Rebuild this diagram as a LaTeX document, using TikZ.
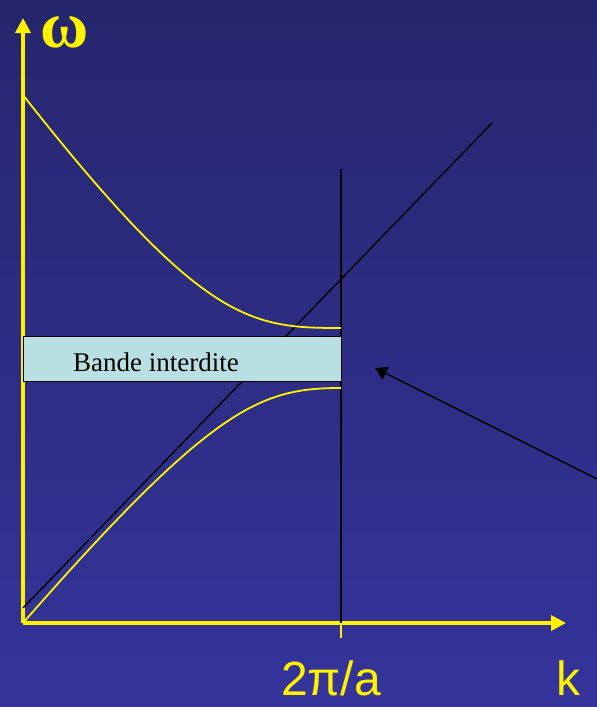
\documentclass[tikz,border=0pt]{standalone}
\usepackage{fontspec}
\setmainfont{Liberation Serif}
\setsansfont{Liberation Sans}
\usetikzlibrary{positioning, arrows.meta}

\definecolor{slidetop}{RGB}{38,38,110}
\definecolor{slidebot}{RGB}{52,52,155}
\definecolor{gapfill}{RGB}{184,223,226}

\begin{document}
\begin{tikzpicture}[
  x=1pt, y=-1pt,
  >=Triangle,
  axis/.style={yellow, line width=3.5pt, -{Triangle[length=15pt, width=15pt]}},
  branch/.style={yellow, line width=1.8pt},
  guide/.style={black, line width=1.4pt},
  pointer/.style={black, line width=1.4pt, -{Triangle[length=12pt, width=14pt]}},
  gapbox/.style={draw=black, fill=gapfill, line width=1.2pt, anchor=north west,
                 minimum width=318pt, minimum height=45pt, inner sep=0pt},
  axlbl/.style={text=yellow, font=\sffamily\fontsize{48}{48}\selectfont, anchor=base, inner sep=0pt},
]

% --- Background ---
\useasboundingbox (0,0) rectangle (597,707);
\shade[top color=slidetop, bottom color=slidebot] (0,0) rectangle (597,707);

% --- Axes ---
\coordinate (O) at (23,623);
\coordinate (wtip) at (23,18);
\coordinate (ktip) at (566,623);
\draw[axis] (O) -- (wtip);
\draw[axis] (O) -- (ktip);

\node[text=yellow, font=\bfseries\fontsize{66}{66}\selectfont, anchor=base, inner sep=0pt,
      text height=32pt, text depth=0pt] (wlbl) at (65,47) {ω};
\node[axlbl] (klbl) at (568,695) {k};
\node[axlbl] (zblbl) at (331,695) {2π/a};

% --- Zone boundary ---
\coordinate (zbtop) at (341,169);
\coordinate (zbaxis) at (341,623);
\coordinate (zbtick) at (341,638);
\draw[guide] (zbtop) -- (zbaxis);
\draw[yellow, line width=1.5pt] (zbaxis) -- (zbtick);

% --- Free light line ---
\coordinate (lineA) at (23,608);
\coordinate (lineB) at (492,123);
\draw[guide] (lineA) -- (lineB);

% --- Forbidden band ---
\node[gapbox] (gap) at (23,336) {};
\node[font=\fontsize{27}{27}\selectfont, anchor=base west, inner sep=0pt] (gaplbl) at (73,371) {Bande interdite};

% --- Dispersion branches ---
\draw[branch] (23,95) .. controls (203,324) and (251,328) .. (341,328);
\draw[branch] (O) .. controls (213,406) and (261,388) .. (341,388);

% --- Pointer ---
\coordinate (pfrom) at (597,479);
\coordinate (pto) at (375,368);
\draw[pointer] (pfrom) -- (pto);

\end{tikzpicture}
\end{document}
